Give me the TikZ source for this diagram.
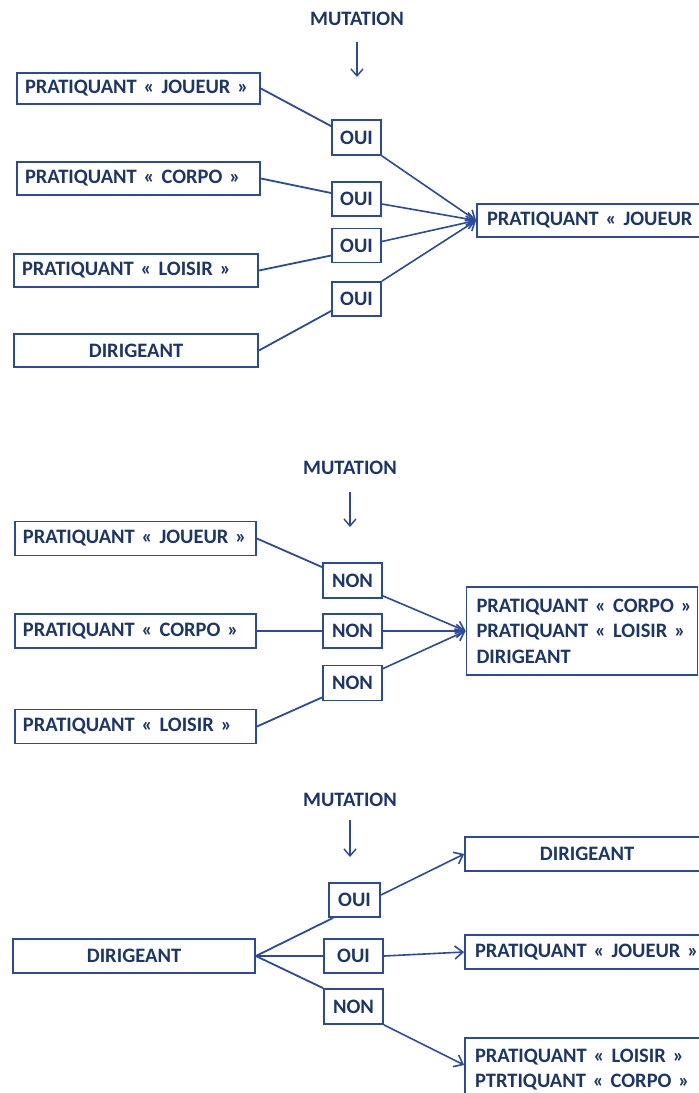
\documentclass[tikz,border=0pt]{standalone}
\usepackage{fontspec}
\setmainfont{Carlito}
\usetikzlibrary{arrows.meta,calc}
\definecolor{txtnavy}{HTML}{1C356A}
\definecolor{lineblue}{HTML}{2B4A9B}
\begin{document}
\begin{tikzpicture}[x=1pt,y=-1pt,
  every node/.style={font=\fontsize{20.5}{25.5}\selectfont\bfseries, text=txtnavy},
  lb/.style n args={2}{draw=lineblue, line width=1.8pt, fill=white, text width=#1-16pt, inner xsep=8pt, inner ysep=0pt, align=left, minimum height=#2},
  lbx/.style n args={2}{draw=lineblue, line width=1.8pt, fill=white, text width=#1-20pt, inner xsep=10pt, inner ysep=0pt, align=left, minimum height=#2},
  cb/.style n args={2}{draw=lineblue, line width=1.8pt, fill=white, minimum width=#1, minimum height=#2, inner sep=0pt},
  ob/.style={draw=lineblue, line width=1.8pt, fill=white, minimum width=#1, minimum height=34pt, inner sep=0pt},
  mut/.style={font=\fontsize{20.5}{24}\selectfont\bfseries, inner sep=0pt},
  conn/.style={draw=lineblue, line width=1.8pt},
  arr/.style={draw=lineblue, line width=1.6pt, -{Straight Barb[length=8pt,width=13pt,line width=1.6pt]}},
  varr/.style={draw=lineblue, line width=1.4pt, -{Straight Barb[length=7pt,width=12pt,line width=1.4pt]}}
]
\useasboundingbox (0,0) rectangle (699,1093);
\fill[white] (0,0) rectangle (699,1093);
\clip (0,0) rectangle (699,1093);

% ---------- Section 1 ----------
\node[mut] (s1m) at (357,19) {MUTATION};
\coordinate (s1a) at (357,77);
\draw[varr] ([yshift=-16pt]s1m.south) -- (s1a);

\node[lb={243pt}{31pt}] (s1j) at (138.5,88.5) {PRATIQUANT « JOUEUR »};
\node[lb={243pt}{33pt}] (s1c) at (138.5,178.5) {PRATIQUANT « CORPO »};
\node[lb={244pt}{33pt}] (s1l) at (136,270.5) {PRATIQUANT « LOISIR »};
\node[cb={244pt}{33pt}] (s1d) at (136,350.5) {DIRIGEANT};

\node[ob=49pt, minimum height=35pt] (s1o1) at (356.5,137.5) {OUI};
\node[ob=49pt] (s1o2) at (356.5,199) {OUI};
\node[ob=49pt] (s1o3) at (356.5,245.5) {OUI};
\node[ob=49pt] (s1o4) at (356.5,299) {OUI};

\node[lbx={243pt}{33pt}] (s1t) at (598.5,220.5) {PRATIQUANT « JOUEUR};

\draw[conn] (s1j.east) -- ([yshift=-7pt]s1o1.north west);
\draw[conn] (s1c.east) -- ([yshift=6pt]s1o2.west);
\draw[conn] (s1l.east) -- ([yshift=-10pt]s1o3.west);
\draw[conn] (s1d.east) -- ([yshift=-12pt]s1o4.west);
\draw[arr] (s1o1.south east) -- (s1t.west);
\draw[arr] ([yshift=-5pt]s1o2.east) -- (s1t.west);
\draw[arr] ([yshift=4pt]s1o3.east) -- (s1t.west);
\draw[arr] (s1o4.north east) -- (s1t.west);

% ---------- Section 2 ----------
\node[mut] (s2m) at (350,468) {MUTATION};
\coordinate (s2a) at (350,527);
\draw[varr] ([yshift=-17pt]s2m.south) -- (s2a);

\node[lb={241pt}{34pt}] (s2j) at (135.5,538.5) {PRATIQUANT « JOUEUR »};
\node[lb={241pt}{34pt}] (s2c) at (135.5,631) {PRATIQUANT « CORPO »};
\node[lb={241pt}{34pt}] (s2l) at (135.5,726.5) {PRATIQUANT « LOISIR »};

\node[ob=59pt, minimum height=35pt] (s2n1) at (352.5,580.5) {NON};
\node[ob=59pt] (s2n2) at (352.5,631) {NON};
\node[ob=59pt, minimum height=35pt] (s2n3) at (352.5,683) {NON};

\node[lbx={231pt}{88pt}] (s2t) at (582,631) {\mbox{PRATIQUANT « CORPO »}\\\mbox{PRATIQUANT « LOISIR »}\\DIRIGEANT};

\draw[conn] (s2j.east) -- ([yshift=-5pt]s2n1.north west);
\draw[conn] (s2c.east) -- (s2n2.west);
\draw[conn] (s2l.east) -- ([yshift=4pt]s2n3.south west);
\draw[arr] ([yshift=3pt]s2n1.south east) -- (s2t.west);
\draw[arr] (s2n2.east) -- (s2t.west);
\draw[arr] ([yshift=-4pt]s2n3.north east) -- (s2t.west);

% ---------- Section 3 ----------
\node[mut] (s3m) at (350,800) {MUTATION};
\coordinate (s3a) at (350,857);
\draw[varr] ([yshift=-13pt]s3m.south) -- (s3a);

\node[cb={242pt}{34pt}] (s3d) at (134,956) {DIRIGEANT};

\node[ob=51pt] (s3o1) at (354.5,900) {OUI};
\node[ob=59pt] (s3o2) at (353.5,956) {OUI};
\node[ob=59pt, minimum height=35pt] (s3n) at (353.5,1006.5) {NON};

\node[cb={244pt}{34pt}] (s3ta) at (587,854) {DIRIGEANT};
\node[lbx={244pt}{34pt}] (s3tb) at (587,952) {PRATIQUANT « JOUEUR »};
\node[lbx={244pt}{86pt}] (s3tc) at (587,1081) {PRATIQUANT « LOISIR »\\PTRTIQUANT « CORPO »\\\phantom{X}};

\draw[conn] (s3d.east) -- ([xshift=5pt]s3o1.south west);
\draw[conn] (s3d.east) -- (s3o2.west);
\draw[conn] (s3d.east) -- (s3n.north west);
\draw[arr] ([yshift=5pt]s3o1.east) -- (s3ta.west);
\draw[arr] (s3o2.east) -- (s3tb.west);
\draw[arr] (s3n.south east) -- ([yshift=16pt]s3tc.west);
\end{tikzpicture}
\end{document}
